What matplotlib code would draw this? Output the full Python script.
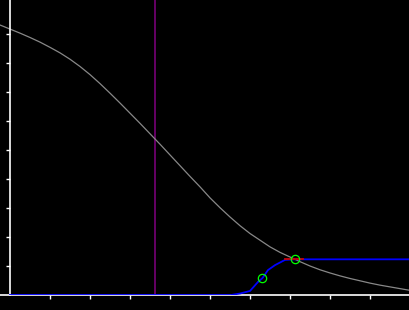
import numpy as np
import matplotlib
matplotlib.use("Agg")
import matplotlib.pyplot as plt

# courbe grise
gx = [-0.25, 0.0, 0.25, 0.5, 0.75, 1.0, 1.25, 1.5, 1.75, 2.0, 2.25, 2.5, 2.75, 3.0,
      3.25, 3.5, 3.75, 4.0, 4.25, 4.5, 4.75, 5.0, 5.25, 5.5, 5.75, 6.0, 6.25, 6.5,
      6.75, 7.0, 7.25, 7.5, 7.75, 8.0, 8.25, 8.5, 8.75, 9.0, 9.25, 9.5, 9.75, 10.0]
gy = [9.31, 9.17, 9.03, 8.88, 8.72, 8.54, 8.35, 8.13, 7.88, 7.60, 7.29, 6.96, 6.62,
      6.27, 5.92, 5.56, 5.20, 4.83, 4.46, 4.09, 3.73, 3.35, 3.01, 2.69, 2.39, 2.12,
      1.89, 1.66, 1.47, 1.31, 1.15, 1.00, 0.87, 0.76, 0.66, 0.57, 0.49, 0.41, 0.34,
      0.28, 0.22, 0.16]

# courbe bleue
bx = [0.0, 5.525, 5.75, 6.0, 6.2, 6.31, 6.45, 6.625, 6.875, 7.125, 10.0]
by = [0.0, 0.0, 0.05, 0.14, 0.45, 0.58, 0.86, 1.03, 1.21, 1.23, 1.23]

# segment rouge
rx = [6.875, 7.325]
ry = [1.23, 1.23]

# points verts
px_ = [6.31, 7.13]
py_ = [0.58, 1.23]

x_mid = 3.6375

fig = plt.figure(figsize=(4.1, 3.1), dpi=100, facecolor="black")
ax = fig.add_axes([0, 15/310, 1, 295/310], facecolor="black")

ax.axvline(x_mid, color="#800080", lw=1.1)
ax.plot(gx, gy, color="#888888", lw=0.9)
ax.plot(bx, by, color="#0000ff", lw=1.3, zorder=3)
ax.plot(rx, ry, color="#cc0000", lw=1.3, zorder=4)
ax.plot(px_, py_, "o", mfc="none", mec="#00ff00", ms=6, mew=0.9, zorder=5)

ax.set_xlim(-0.25, 10)
ax.set_ylim(0, 295/29)
ax.set_xticks(np.arange(1, 11))
ax.set_yticks(np.arange(1, 10))
ax.set_xticklabels([])
ax.set_yticklabels([])
ax.tick_params(colors="white", length=3, width=1, direction="out")
ax.spines["left"].set_position(("data", 0))
for s in ["left", "bottom"]:
    ax.spines[s].set_color("white")
    ax.spines[s].set_linewidth(1.2)
for s in ["right", "top"]:
    ax.spines[s].set_visible(False)

fig.savefig("out.png", dpi=100, facecolor="black")
